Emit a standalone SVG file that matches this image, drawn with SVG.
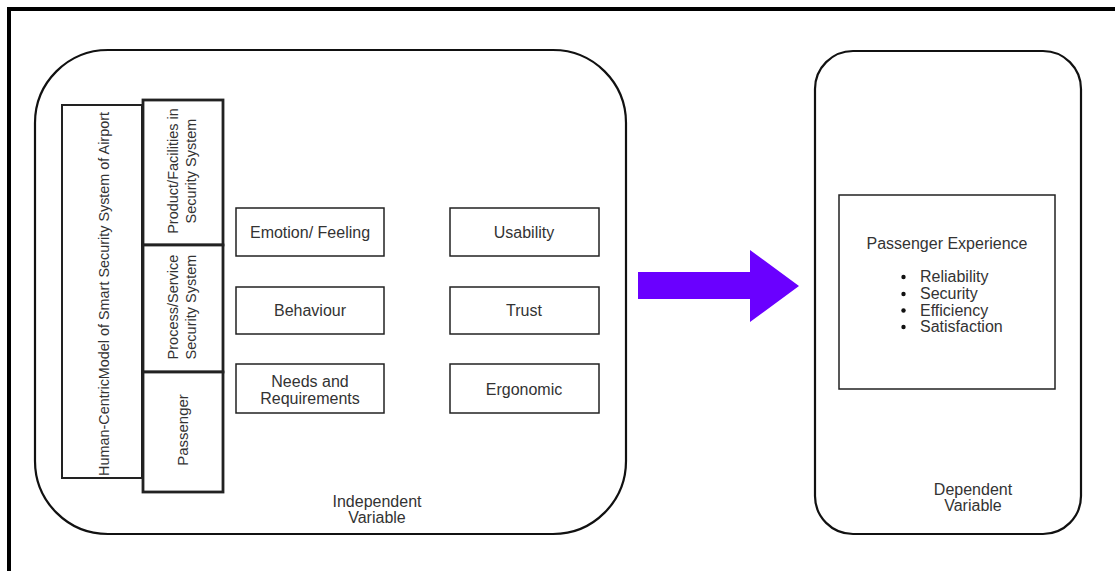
<svg xmlns="http://www.w3.org/2000/svg" width="1115" height="571" viewBox="0 0 1115 571">
<style>
.t{font-family:"Liberation Sans",Arial,sans-serif;fill:#333;text-anchor:middle}
.m{font-size:16px}
.r{font-size:14.5px}
.box{fill:#fff;stroke:#222;stroke-width:1.5}
.panel{fill:#fff;stroke:#111;stroke-width:2.2}
.side{fill:#fff;stroke:#222;stroke-width:2.8}
</style>
<rect width="1115" height="571" fill="#fff"/>
<rect id="frame" x="9" y="9" width="1200" height="700" fill="none" stroke="#000" stroke-width="4"/>
<g id="independent">
<rect class="panel" x="35" y="50" width="591" height="484" rx="73" ry="73"/>
<text class="t m" x="377" y="507">Independent</text>
<text class="t m" x="377" y="523">Variable</text>
</g>
<g id="human-centric">
<rect x="62" y="105" width="80" height="373" fill="#fff" stroke="#222" stroke-width="2"/>
<text class="t" font-size="14.4" transform="translate(109,294) rotate(-90)">Human-CentricModel of Smart Security System of Airport</text>
</g>
<g id="product">
<rect class="side" x="143" y="100" width="80" height="145"/>
<text class="t r" transform="translate(178,171) rotate(-90)">Product/Facilities in</text>
<text class="t r" transform="translate(195.5,171) rotate(-90)">Security System</text>
</g>
<g id="process">
<rect class="side" x="143" y="245" width="80" height="127"/>
<text class="t r" transform="translate(178,307) rotate(-90)">Process/Service</text>
<text class="t r" transform="translate(195.5,307) rotate(-90)">Security System</text>
</g>
<g id="passenger">
<rect class="side" x="143" y="372" width="80" height="120"/>
<text class="t" font-size="15" transform="translate(188,430) rotate(-90)">Passenger</text>
</g>
<g id="emotion">
<rect class="box" x="236" y="208" width="148" height="48"/>
<text class="t m" x="310" y="238">Emotion/ Feeling</text>
</g>
<g id="behaviour">
<rect class="box" x="236" y="287" width="148" height="47"/>
<text class="t m" x="310" y="316">Behaviour</text>
</g>
<g id="needs">
<rect class="box" x="236" y="364" width="148" height="49"/>
<text class="t m" x="310" y="387">Needs and</text>
<text class="t m" x="310" y="404">Requirements</text>
</g>
<g id="usability">
<rect class="box" x="450" y="208" width="149" height="48"/>
<text class="t m" x="524" y="238">Usability</text>
</g>
<g id="trust">
<rect class="box" x="450" y="287" width="149" height="47"/>
<text class="t m" x="524" y="316">Trust</text>
</g>
<g id="ergonomic">
<rect class="box" x="450" y="364" width="149" height="49"/>
<text class="t m" x="524" y="395">Ergonomic</text>
</g>
<g id="connectors">
<polygon points="638,272 750,272 750,250 799,286 750,322 750,299 638,299" fill="#6a00ff"/>
</g>
<g id="dependent">
<rect class="panel" x="815" y="51" width="266" height="483" rx="38" ry="38"/>
<text class="t m" x="973" y="495">Dependent</text>
<text class="t m" x="973" y="511">Variable</text>
</g>
<g id="experience">
<rect class="box" x="839" y="195" width="216" height="194"/>
<text class="t m" x="947" y="249">Passenger Experience</text>
<g font-family="Liberation Sans,Arial,sans-serif" font-size="16" fill="#333">
<circle cx="903.5" cy="277" r="2.2" fill="#111"/>
<circle cx="903.5" cy="294" r="2.2" fill="#111"/>
<circle cx="903.5" cy="310.5" r="2.2" fill="#111"/>
<circle cx="903.5" cy="327" r="2.2" fill="#111"/>
<text x="920" y="282">Reliability</text>
<text x="920" y="299">Security</text>
<text x="920" y="315.5">Efficiency</text>
<text x="920" y="332">Satisfaction</text>
</g>
</g>
</svg>
